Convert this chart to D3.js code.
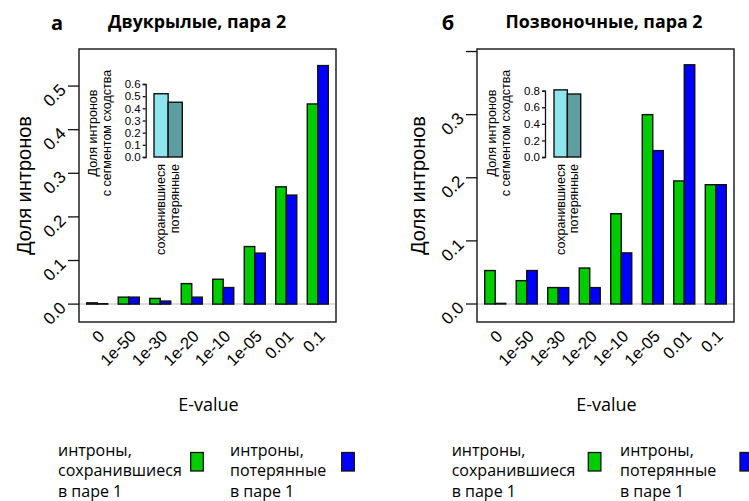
<!DOCTYPE html>
<meta charset="utf-8"/>
<style>
    body { margin: 0; background: #fff; }
    text { font-family: "Liberation Sans", Arial, sans-serif; fill: #000; }
    .soft { font-family: "Open Sans", sans-serif; }
    .bar { stroke: #111; stroke-width: 1.4px; }
</style>
<body>
<svg width="749" height="501"></svg>
</body>
<script src="https://d3js.org/d3.v7.min.js"></script>
<script>

  // E-value thresholds (x categories)
  var evalues = ["0", "1e-50", "1e-30", "1e-20", "1e-10", "1e-05", "0.01", "0.1"]
  var seriesKeys = ["kept", "lost"]

  // panel a: Diptera, pair 2
  var dipteraKept = [0.003, 0.016, 0.013, 0.047, 0.057, 0.132, 0.269, 0.459]
  var dipteraLost = [0.001, 0.016, 0.007, 0.016, 0.038, 0.117, 0.250, 0.547]

  // panel б: vertebrates, pair 2
  var vertKept = [0.053, 0.037, 0.026, 0.057, 0.143, 0.300, 0.195, 0.189]
  var vertLost = [0.001, 0.053, 0.026, 0.026, 0.081, 0.243, 0.379, 0.189]

  // insets: share of introns with a similarity segment
  var insetGroups = ["сохранившиеся", "потерянные"]
  var dipteraInset = [0.52, 0.45]
  var vertInset = [0.81, 0.76]

  var dipteraTicks = [0, 0.1, 0.2, 0.3, 0.4, 0.5]
  var vertTicks = [0, 0.1, 0.2, 0.3, 0.4]
  var vertTickLabels = [0, 0.1, 0.2, 0.3]
  var dipteraInsetTicks = [0, 0.1, 0.2, 0.3, 0.4, 0.5, 0.6]
  var vertInsetTicks = [0, 0.2, 0.4, 0.6, 0.8]

  var seriesColor = { kept: "#00cd00", lost: "#0000ff" }
  var insetColor = ["#8ee5ee", "#5f9ea0"]

  var svg = d3.select("svg")
  var fmt = d3.format(".1f")

  var panels = [
    { letter: "а", title: "Двукрылые, пара 2", kept: dipteraKept, lost: dipteraLost,
      ticks: dipteraTicks, tickLabels: dipteraTicks, yDomain: [-0.041, 0.585],
      box: [79, 336], letterX: 57, titleX: 197, ytitleX: 24,
      inset: dipteraInset, insetTicks: dipteraInsetTicks, insetMax: 0.6,
      insetTop: 84, insetAxisX: 145.7, insetBars: [154, 182.3],
      legendX: [58, 190.7, 230, 341.7] },
    { letter: "б", title: "Позвоночные, пара 2", kept: vertKept, lost: vertLost,
      ticks: vertTicks, tickLabels: vertTickLabels, yDomain: [-0.0285, 0.404],
      box: [477, 734], letterX: 448, titleX: 604, ytitleX: 418,
      inset: vertInset, insetTicks: vertInsetTicks, insetMax: 0.8,
      insetTop: 90.7, insetAxisX: 545, insetBars: [554, 580.7],
      legendX: [451.7, 588.3, 620, 740] }
  ]

  var boxTop = 49, boxBottom = 322

  panels.forEach(drawPanel)

  function drawPanel (p) {
    var g = svg.append("g")

    var rows = evalues.map(function (e, i) {
      return { e: e, kept: p.kept[i], lost: p.lost[i] }
    })

    var x0 = d3.scaleBand().domain(evalues).range(p.box)
      .paddingInner(1 / 3).paddingOuter(0.245)
    var x1 = d3.scaleBand().domain(seriesKeys).range([0, x0.bandwidth()])
    var y = d3.scaleLinear().domain(p.yDomain).range([boxBottom, boxTop])

    // titles
    g.append("text").attr("class", "soft")
      .attr("x", p.letterX).attr("y", 30)
      .attr("text-anchor", "middle")
      .style("font-size", "20px").style("font-weight", "bold")
      .text(p.letter)
    g.append("text").attr("class", "soft")
      .attr("x", p.titleX).attr("y", 28)
      .attr("text-anchor", "middle")
      .style("font-size", "17.8px").style("font-weight", "bold")
      .text(p.title)

    // faint zero line
    g.append("line")
      .attr("x1", p.box[0]).attr("x2", p.box[1])
      .attr("y1", y(0)).attr("y2", y(0))
      .attr("stroke", "#dedede").attr("stroke-width", 2)

    // bars
    g.append("g").selectAll("g")
      .data(rows)
      .enter().append("g")
      .attr("transform", function (d) { return "translate(" + x0(d.e) + ",0)" })
      .selectAll("rect")
      .data(function (d) { return seriesKeys.map(function (k) { return { k: k, v: d[k] } }) })
      .enter().append("rect")
      .attr("class", "bar")
      .attr("x", function (d) { return x1(d.k) })
      .attr("width", x1.bandwidth())
      .attr("y", function (d) { return y(d.v) })
      .attr("height", function (d) { return y(0) - y(d.v) })
      .attr("fill", function (d) { return seriesColor[d.k] })

    // frame
    g.append("rect")
      .attr("x", p.box[0]).attr("y", boxTop)
      .attr("width", p.box[1] - p.box[0]).attr("height", boxBottom - boxTop)
      .attr("fill", "none").attr("stroke", "#222").attr("stroke-width", 1.5)

    // y axis (ticks + rotated labels)
    var yt = g.append("g")
    yt.selectAll("line").data(p.ticks).enter().append("line")
      .attr("x1", p.box[0] - 11).attr("x2", p.box[0])
      .attr("y1", function (d) { return y(d) }).attr("y2", function (d) { return y(d) })
      .attr("stroke", "#111").attr("stroke-width", 1.3)
    yt.selectAll("text").data(p.tickLabels).enter().append("text")
      .attr("text-anchor", "end")
      .attr("dominant-baseline", "central")
      .attr("transform", function (d) {
        return "translate(" + (p.box[0] - 16) + "," + (y(d) + 1) + ") rotate(-45)"
      })
      .style("font-size", "17px")
      .text(fmt)

    g.append("text")
      .attr("transform", "translate(" + p.ytitleX + "," + ((boxTop + boxBottom) / 2) + ") rotate(-90)")
      .attr("text-anchor", "middle")
      .attr("dominant-baseline", "central")
      .style("font-size", "20px")
      .text("Доля интронов")

    // x tick labels
    g.append("g").selectAll("text")
      .data(evalues).enter().append("text")
      .attr("text-anchor", "end")
      .attr("dominant-baseline", "central")
      .attr("transform", function (d) {
        return "translate(" + (x0(d) + x0.bandwidth() / 2 + 4) + ",333) rotate(-45)"
      })
      .style("font-size", "16.5px")
      .text(function (d) { return d })

    g.append("text").attr("class", "soft")
      .attr("x", (p.box[0] + p.box[1]) / 2 + 1).attr("y", 411)
      .attr("text-anchor", "middle")
      .style("font-size", "18px")
      .text("E-value")

    // inset
    var ix = d3.scaleBand().domain(insetGroups).range(p.insetBars)
    var iy = d3.scaleLinear().domain([0, p.insetMax]).range([157, p.insetTop])
    var ins = g.append("g")

    ins.selectAll("rect")
      .data(insetGroups).enter().append("rect")
      .attr("class", "bar")
      .attr("x", function (d) { return ix(d) })
      .attr("width", ix.bandwidth())
      .attr("y", function (d, i) { return iy(p.inset[i]) })
      .attr("height", function (d, i) { return iy(0) - iy(p.inset[i]) })
      .attr("fill", function (d, i) { return insetColor[i] })

    var iax = d3.axisLeft(iy).tickValues(p.insetTicks).tickSize(3).tickPadding(2).tickFormat(fmt)
    var ia = ins.append("g")
      .attr("transform", "translate(" + p.insetAxisX + ",0)")
      .call(iax)
    ia.select(".domain").attr("stroke", "#111").attr("stroke-width", 1.3)
    ia.selectAll(".tick line").attr("stroke", "#111").attr("stroke-width", 1.3)
    ia.selectAll(".tick text")
      .style("font-family", "'Liberation Sans', Arial, sans-serif")
      .style("font-size", "11.5px").attr("fill", "#000")

    ins.append("text")
      .attr("transform", "translate(" + (p.insetAxisX - 53) + ",133) rotate(-90)")
      .attr("text-anchor", "middle").attr("dominant-baseline", "central")
      .style("font-size", "12.5px")
      .text("Доля интронов")
    ins.append("text")
      .attr("transform", "translate(" + (p.insetAxisX - 39) + ",133) rotate(-90)")
      .attr("text-anchor", "middle").attr("dominant-baseline", "central")
      .style("font-size", "12.5px")
      .text("с сегментом сходства")

    ins.selectAll(".ilab")
      .data(insetGroups).enter().append("text")
      .attr("class", "ilab")
      .attr("text-anchor", "end").attr("dominant-baseline", "central")
      .attr("transform", function (d) {
        return "translate(" + (ix(d) + ix.bandwidth() / 2) + ",164) rotate(-90)"
      })
      .style("font-size", "12.5px")
      .text(function (d) { return d })

    // legend
    var legendItems = [
      { lines: ["интроны,", "сохранившиеся", "в паре 1"], k: "kept" },
      { lines: ["интроны,", "потерянные", "в паре 1"], k: "lost" }
    ]
    legendItems.forEach(function (it, i) {
      var tx = p.legendX[i * 2], bx = p.legendX[i * 2 + 1]
      var t = g.append("text").attr("class", "soft")
        .style("font-size", "16px")
      it.lines.forEach(function (line, j) {
        t.append("tspan").attr("x", tx).attr("y", 456 + j * 20.4).text(line)
      })
      g.append("rect")
        .attr("x", bx).attr("y", 452.5)
        .attr("width", 12.6).attr("height", 18.5)
        .attr("fill", seriesColor[it.k])
        .attr("stroke", "#111").attr("stroke-width", 1.3)
    })
  }

</script>
